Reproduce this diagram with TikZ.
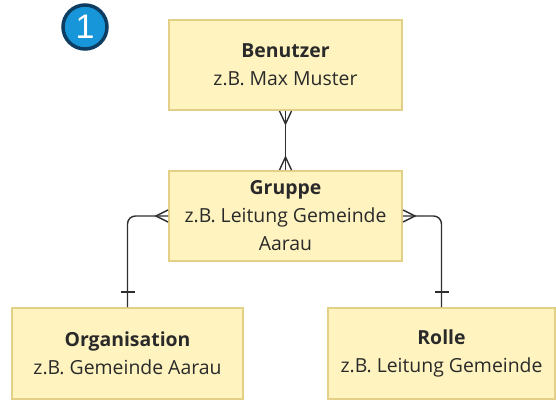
\documentclass[tikz,border=0pt]{standalone}
\usepackage{fontspec}
\setmainfont{Open Sans}
\newfontfamily\numfont{Liberation Sans}
\usetikzlibrary{calc}
\definecolor{boxfill}{HTML}{FFF4BF}
\definecolor{boxline}{HTML}{E3CF86}
\definecolor{connline}{HTML}{2E2E2E}
\definecolor{txtcol}{HTML}{2A2A2A}
\definecolor{ringcol}{HTML}{0E3D62}
\definecolor{discol}{HTML}{1796DA}
\tikzset{
  entity/.style={draw=boxline, fill=boxfill, line width=2pt, align=center,
    text=txtcol, inner sep=0pt,
    font=\fontsize{19.4}{28}\selectfont},
  conn/.style={draw=connline, line width=1.4pt},
}
\begin{document}
\begin{tikzpicture}[x=1pt,y=-1pt]
\useasboundingbox (0,0) rectangle (556,401);
\node[entity, minimum width=233, minimum height=90] (ben) at (285.5,65)
  {\textbf{Benutzer}\\z.B. Max Muster};
\node[entity, minimum width=233, minimum height=90] (grp) at (285.5,216)
  {\textbf{Gruppe}\\z.B. Leitung Gemeinde\\Aarau};
\node[entity, minimum width=231, minimum height=91] (org) at (127.5,353.5)
  {\textbf{Organisation}\\z.B. Gemeinde Aarau};
\node[entity, minimum width=227, minimum height=91] (rol) at (441.5,353.5)
  {\textbf{Rolle}\\z.B. Leitung Gemeinde};
% badge
\node[circle, draw=ringcol, line width=3.5pt, fill=discol, minimum size=44, inner sep=0pt,
  text=white, font=\numfont\fontsize{34}{34}\selectfont] (badge) at (85,27) {1};
% Benutzer -- Gruppe
\draw[conn] (ben.south) -- (grp.north);
\draw[conn] ($(ben.south)+(-6,0)$) -- ($(ben.south)+(0,13)$) -- ($(ben.south)+(6,0)$);
\draw[conn] ($(grp.north)+(-6,0)$) -- ($(grp.north)+(0,-13)$) -- ($(grp.north)+(6,0)$);
% Gruppe -- Organisation
\draw[conn, rounded corners=8] (grp.west) -- (grp.west -| org.north) -- (org.north);
\draw[conn] ($(grp.west)+(0,-6)$) -- ($(grp.west)+(-12,0)$) -- ($(grp.west)+(0,6)$);
\draw[conn] ($(org.north)+(-7,-15)$) -- ($(org.north)+(7,-15)$);
% Gruppe -- Rolle
\draw[conn, rounded corners=8] (grp.east) -- (grp.east -| rol.north) -- (rol.north);
\draw[conn] ($(grp.east)+(0,-6)$) -- ($(grp.east)+(12,0)$) -- ($(grp.east)+(0,6)$);
\draw[conn] ($(rol.north)+(-7,-15)$) -- ($(rol.north)+(7,-15)$);
\end{tikzpicture}
\end{document}
